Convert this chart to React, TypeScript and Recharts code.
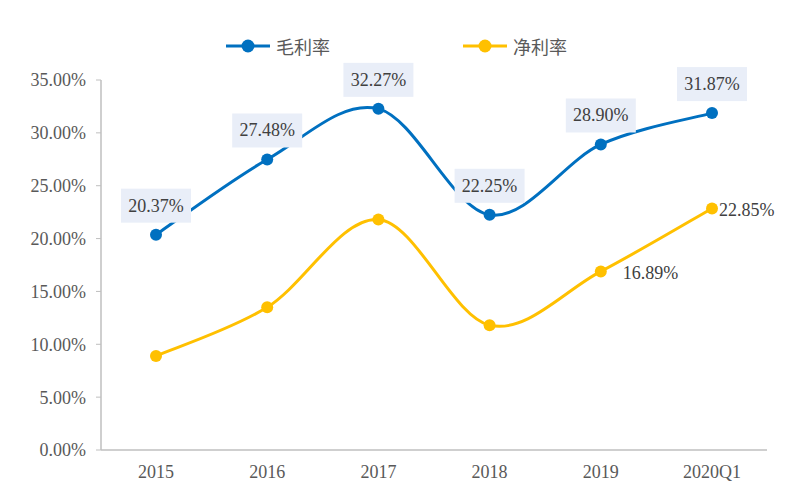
import React from 'react';
import { LineChart, Line, XAxis, YAxis, LabelList } from 'recharts';

const categories = ['2015', '2016', '2017', '2018', '2019', '2020Q1'];
const grossMargin = [20.37, 27.48, 32.27, 22.25, 28.9, 31.87];
const netMargin = [8.9, 13.5, 21.8, 11.8, 16.89, 22.85];
const yTicks = [0, 5, 10, 15, 20, 25, 30, 35];

const BLUE = '#0070c0';
const ORANGE = '#ffc000';
const SERIF = '"Liberation Serif", "Times New Roman", serif';
const CJK = '"Noto Sans CJK SC", sans-serif';

const data = categories.map((name, i) => ({ name, gross: grossMargin[i], net: netMargin[i] }));

const pct = (v: number) => `${v.toFixed(2)}%`;

// Excel-style smoothing (Catmull-Rom via cubic beziers)
const smoothCurve = (context: any) => {
    let pts: [number, number][] = [];
    return {
        areaStart() {},
        areaEnd() {},
        lineStart() { pts = []; },
        point(x: number, y: number) { pts.push([x, y]); },
        lineEnd() {
            if (!pts.length) return;
            context.moveTo(pts[0][0], pts[0][1]);
            for (let i = 0; i < pts.length - 1; i++) {
                const p0 = pts[i - 1] || pts[i];
                const p1 = pts[i];
                const p2 = pts[i + 1];
                const p3 = pts[i + 2] || p2;
                const t = 1 / 6;
                context.bezierCurveTo(
                    p1[0] + (p2[0] - p0[0]) * t, p1[1] + (p2[1] - p0[1]) * t,
                    p2[0] - (p3[0] - p1[0]) * t, p2[1] - (p3[1] - p1[1]) * t,
                    p2[0], p2[1]
                );
            }
        },
    };
};

const BoxLabel = (props: any) => {
    const { x, y, value } = props;
    const w = 70, h = 34;
    return (
        <g>
            <rect x={x - w / 2} y={y - 12 - h} width={w} height={h} fill="#e9eef8" />
            <text x={x} y={y - 12 - h / 2} textAnchor="middle" dominantBaseline="central"
                fontFamily={SERIF} fontSize={18} fill="#404040">{pct(value)}</text>
        </g>
    );
};

// only the last two net-margin points carry a label, to the right of the point
const netLabelDx: Record<number, number> = { 4: 22, 5: 7 };
const SideLabel = (props: any) => {
    const { x, y, value, index } = props;
    if (netLabelDx[index] === undefined) return null;
    return (
        <text x={x + netLabelDx[index]} y={y + 2} dominantBaseline="central"
            fontFamily={SERIF} fontSize={18} fill="#404040">{pct(value)}</text>
    );
};

const LegendItem = ({ color, label, x }: { color: string; label: string; x: number }) => (
    <div style={{ position: 'absolute', left: x, top: 33, display: 'flex', alignItems: 'center' }}>
        <svg width={46} height={24}>
            <line x1={1} y1={12} x2={45} y2={12} stroke={color} strokeWidth={3} />
            <circle cx={23} cy={12} r={6.5} fill={color} />
        </svg>
        <span style={{ fontFamily: CJK, fontSize: 18, color: '#595959', marginLeft: 5 }}>{label}</span>
    </div>
);

export default function App() {
    return (
        <div style={{ position: 'absolute', left: 0, top: 0, width: 800, height: 492, background: '#fff' }}>
            <LegendItem color={BLUE} label="毛利率" x={225} />
            <LegendItem color={ORANGE} label="净利率" x={462} />
            <LineChart width={800} height={492} data={data} margin={{ top: 80, right: 33, bottom: 0, left: 0 }}>
                <XAxis dataKey="name" height={42} tickLine={false} tickSize={6} tickMargin={9}
                    padding={{ left: 55, right: 55 }}
                    axisLine={{ stroke: '#bfbfbf', strokeWidth: 1.5 }}
                    tick={{ fontFamily: SERIF, fontSize: 18, fill: '#595959' }} />
                <YAxis width={101} domain={[0, 35]} ticks={yTicks} tickFormatter={pct} tickSize={5} tickMargin={10}
                    axisLine={{ stroke: '#bfbfbf', strokeWidth: 1.5 }} tickLine={{ stroke: '#bfbfbf' }}
                    tick={{ fontFamily: SERIF, fontSize: 18, fill: '#595959' }} />
                <Line dataKey="gross" type={smoothCurve as any} stroke={BLUE} strokeWidth={3}
                    dot={{ r: 6, fill: BLUE, stroke: 'none' }} activeDot={false} isAnimationActive={false}>
                    <LabelList dataKey="gross" content={BoxLabel} />
                </Line>
                <Line dataKey="net" type={smoothCurve as any} stroke={ORANGE} strokeWidth={3}
                    dot={{ r: 6, fill: ORANGE, stroke: 'none' }} activeDot={false} isAnimationActive={false}>
                    <LabelList dataKey="net" content={SideLabel} />
                </Line>
            </LineChart>
        </div>
    );
}
